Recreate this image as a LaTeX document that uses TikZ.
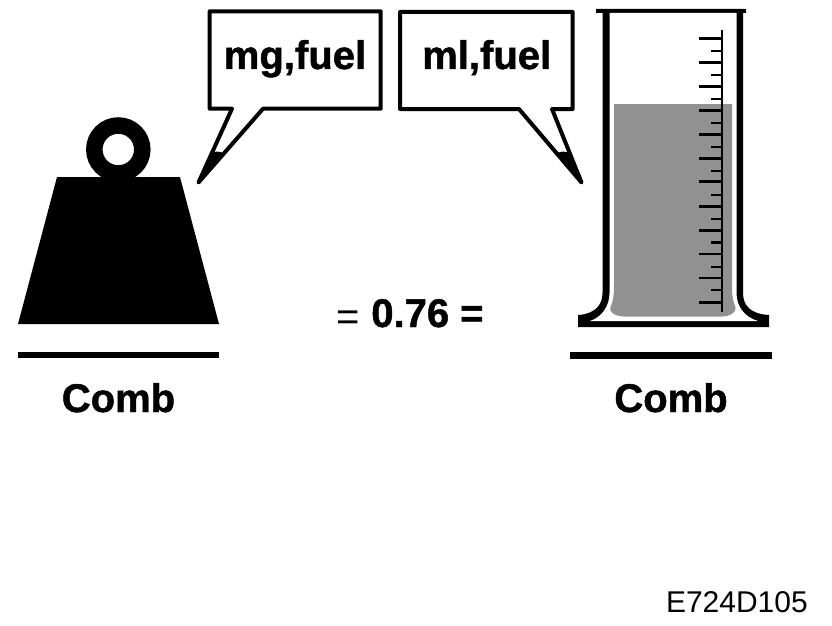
\documentclass[tikz,border=0pt]{standalone}
\usepackage{fontspec}
\setmainfont{Liberation Sans}[BoldFeatures={FakeBold=1.2}]
\begin{document}
\begin{tikzpicture}[x=1pt,y=-1pt,
  boldlabel/.style={font=\bfseries\fontsize{40}{40}\selectfont,inner sep=0pt,anchor=base},
  thinlabel/.style={font=\fontsize{40}{40}\selectfont,inner sep=0pt,anchor=base},
  bubble/.style={draw=black,line width=4pt,fill=white,line join=round},
  wall/.style={fill=black,draw=none},
  rule/.style={fill=black,draw=none},
  liquid/.style={fill=black!43,draw=none},
  longtick/.style={line width=2.6pt},
  shorttick/.style={line width=2.4pt}]
\useasboundingbox (0,0) rectangle (832,626);
% weight
\fill (57,177) -- (180,177) -- (219,324) -- (18,324) -- cycle;
\draw[line width=16.5pt] (118.3,149.5) circle (24);
\fill[rule] (18,352) rectangle (219,358);
% bubbles
\draw[bubble] (209.7,11.3) -- (380.7,11.3) -- (380.7,108.7) -- (263,108.7) -- (198.5,182.5) -- (232,108.7) -- (209.7,108.7) -- cycle;
\fill (197,184) -- (210.5,153) -- (217,151.5) -- (225,153) -- cycle;
\draw[bubble] (400,12) -- (572.7,12) -- (572.7,109) -- (552,109) -- (581.5,182.5) -- (519,109) -- (400,109) -- cycle;
\fill (583,184) -- (556,153) -- (563,151.5) -- (571,153) -- cycle;
\node[boldlabel] (massunit) at (295,69) {mg,fuel};
\node[boldlabel] (volunit) at (486.7,69) {ml,fuel};
% cylinder
\fill[wall] (596,9) -- (746,9) -- (746,13) -- (743,13) -- (743,293) .. controls (743,305) and (750,314) .. (769,315) -- (769,327) -- (578,327) -- (578,315) .. controls (595,314) and (602.5,305) .. (602.5,293) -- (602.5,13) -- (596,13) -- cycle;
\fill[white] (609.5,13) -- (736.5,13) -- (736.5,293) .. controls (736.5,306) and (744,317) .. (758,321) -- (590,321) .. controls (602,317) and (609.5,306) .. (609.5,293) -- cycle;
% liquid
\fill[liquid] (614,104) -- (732,104) -- (732,285) .. controls (732,296) and (733,302) .. (735.5,307) .. controls (737,312) and (730,316.5) .. (722,316.5) -- (624,316.5) .. controls (616,316.5) and (608,312) .. (610.5,307) .. controls (613,302) and (614,296) .. (614,285) -- cycle;
% scale
\draw[line width=2.6pt] (722,30) -- (722,312);
\foreach \y in {38.7,62.7,86.7,110.7,134.7,158.7,181.7,206.7,230.7,254,278,302.3}
  \draw[longtick] (699,\y) -- (722,\y);
\foreach \y in {51,74.7,98.7,122.7,146.7,170.7,195,219,242.3,266.7,290}
  \draw[shorttick] (711,\y) -- (722,\y);
\fill[rule] (570,352) rectangle (772,359);
% labels
\node[boldlabel] (combleft) at (118.5,412) {Comb};
\node[boldlabel] (combright) at (671,412) {Comb};
\node[thinlabel] (eqthin) at (348.5,330.5) {=};
\node[boldlabel] (ratio) at (427.5,327) {0.76 =};
\node[font=\fontsize{30}{30}\selectfont,inner sep=0pt,anchor=base east] (code) at (808,612) {E724D105};
\end{tikzpicture}
\end{document}
